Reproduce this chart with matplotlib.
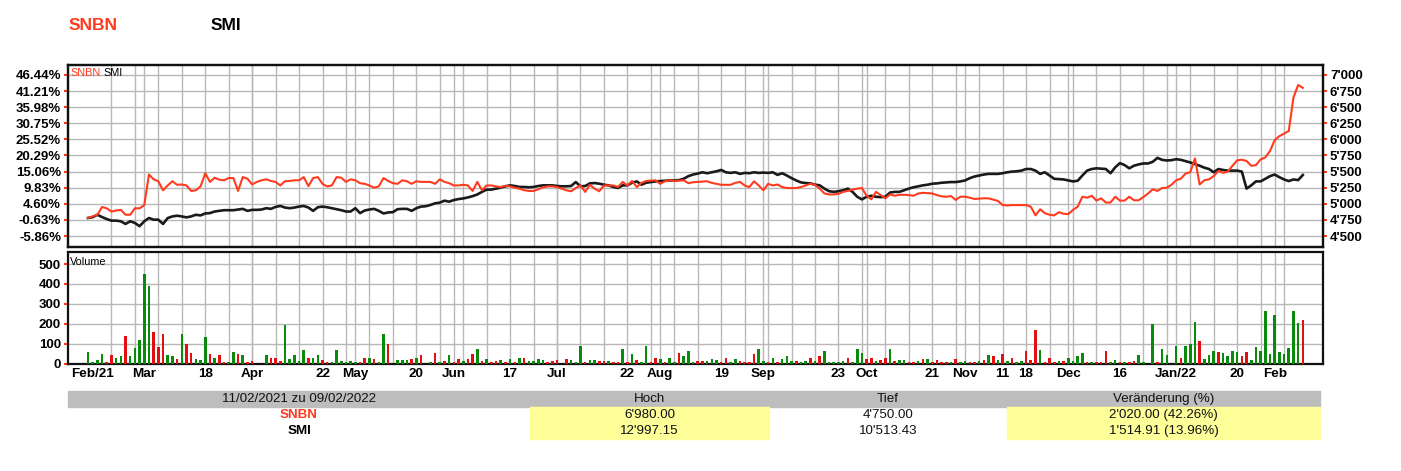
import numpy as np
import pandas as pd
import matplotlib
matplotlib.use('Agg')
import matplotlib.pyplot as plt
from matplotlib.patches import Rectangle

plt.rcParams['font.family'] = ['Liberation Sans', 'DejaVu Sans']

# Handelstage (Mo-Fr) 11.02.2021 - 09.02.2022
dates = pd.bdate_range('2021-02-11', '2022-02-09')

# Schlusskurse SNBN (CHF)
snbn = [4780, 4805, 4830, 4950, 4930, 4880, 4895, 4905, 4830, 4830,
        4930, 4930, 4980, 5455, 5380, 5350, 5210, 5285, 5350, 5295,
        5300, 5285, 5200, 5210, 5270, 5475, 5340, 5405, 5375, 5365,
        5400, 5400, 5200, 5415, 5390, 5300, 5340, 5365, 5380, 5355,
        5340, 5285, 5350, 5355, 5365, 5365, 5415, 5275, 5400, 5415,
        5310, 5270, 5285, 5415, 5405, 5340, 5380, 5365, 5320, 5310,
        5285, 5250, 5270, 5400, 5355, 5320, 5310, 5365, 5350, 5310,
        5350, 5340, 5340, 5340, 5310, 5380, 5340, 5320, 5285, 5285,
        5295, 5285, 5200, 5340, 5210, 5285, 5285, 5270, 5260, 5280,
        5270, 5250, 5235, 5210, 5200, 5200, 5225, 5255, 5270, 5270,
        5260, 5235, 5210, 5195, 5245, 5285, 5185, 5295, 5235, 5195,
        5285, 5285, 5285, 5260, 5340, 5285, 5355, 5260, 5325, 5355,
        5360, 5365, 5310, 5350, 5365, 5355, 5360, 5365, 5320, 5335,
        5340, 5345, 5350, 5325, 5310, 5295, 5295, 5295, 5325, 5340,
        5285, 5260, 5350, 5285, 5210, 5310, 5285, 5300, 5260, 5245,
        5245, 5245, 5260, 5285, 5310, 5295, 5235, 5160, 5145, 5145,
        5155, 5185, 5200, 5220, 5235, 5245, 5125, 5070, 5185, 5135,
        5085, 5145, 5125, 5140, 5140, 5135, 5125, 5160, 5170, 5165,
        5160, 5135, 5115, 5110, 5120, 5060, 5110, 5110, 5095, 5075,
        5080, 5085, 5085, 5065, 5045, 4980, 4975, 4980, 4980, 4980,
        4980, 4955, 4820, 4915, 4855, 4830, 4820, 4870, 4845, 4840,
        4905, 4955, 5110, 5095, 5125, 5050, 5085, 5020, 5020, 5110,
        5050, 5050, 5110, 5055, 5055, 5105, 5160, 5225, 5200, 5245,
        5250, 5295, 5365, 5390, 5470, 5490, 5705, 5300, 5365, 5380,
        5430, 5510, 5480, 5500, 5590, 5675, 5685, 5665, 5590, 5600,
        5690, 5720, 5820, 5990, 6050, 6090, 6130, 6650, 6845, 6800]

# SMI Schlussstände
smi = [10852, 10880, 10965, 10884, 10815, 10758, 10758, 10735, 10642, 10735,
       10677, 10562, 10735, 10850, 10792, 10792, 10642, 10850, 10907, 10931,
       10907, 10873, 10907, 10965, 10942, 11011, 11023, 11080, 11103, 11126,
       11126, 11126, 11150, 11173, 11103, 11138, 11138, 11150, 11196, 11173,
       11242, 11276, 11219, 11196, 11219, 11253, 11276, 11219, 11103, 11230,
       11253, 11230, 11196, 11161, 11126, 11080, 11080, 11196, 11023, 11115,
       11150, 11173, 11103, 11011, 11046, 11057, 11161, 11173, 11173, 11103,
       11196, 11253, 11265, 11311, 11368, 11392, 11461, 11426, 11484, 11518,
       11541, 11576, 11622, 11680, 11772, 11852, 11852, 11887, 11922, 11968,
       12002, 11979, 11945, 11945, 11933, 11945, 11979, 12002, 12002, 12002,
       11979, 11968, 11968, 11979, 12118, 11968, 11979, 12071, 12083, 12060,
       12025, 12002, 11945, 11910, 12002, 12002, 12094, 12141, 12025, 12094,
       12118, 12141, 12152, 12164, 12175, 12175, 12187, 12233, 12325, 12383,
       12417, 12463, 12429, 12463, 12498, 12544, 12463, 12440, 12463, 12406,
       12440, 12429, 12463, 12440, 12452, 12440, 12463, 12371, 12429, 12348,
       12256, 12175, 12106, 12083, 12071, 12025, 12002, 11887, 11795, 11772,
       11795, 11829, 11887, 11772, 11599, 11507, 11599, 11634, 11599, 11587,
       11599, 11749, 11772, 11772, 11829, 11887, 11933, 11968, 12002, 12025,
       12060, 12071, 12094, 12106, 12118, 12118, 12141, 12175, 12256, 12313,
       12348, 12383, 12406, 12406, 12406, 12429, 12463, 12486, 12498, 12521,
       12578, 12578, 12521, 12406, 12463, 12348, 12233, 12221, 12210, 12175,
       12141, 12164, 12348, 12521, 12578, 12602, 12590, 12578, 12429, 12636,
       12786, 12717, 12602, 12694, 12740, 12774, 12774, 12832, 12970, 12901,
       12878, 12890, 12924, 12901, 12855, 12809, 12751, 12694, 12625, 12578,
       12463, 12578, 12544, 12521, 12521, 12521, 12486, 11887, 12002, 12141,
       12141, 12233, 12325, 12383, 12290, 12210, 12152, 12210, 12187, 12367]

# Volumen SNBN (Stück) und Richtung (1 = steigend, 0 = fallend)
volume = [60, 10, 20, 48, 10, 43, 32, 38, 140, 38,
          80, 120, 452, 392, 158, 87, 152, 43, 38, 27,
          152, 98, 55, 27, 20, 135, 48, 32, 43, 10,
          10, 60, 48, 43, 10, 15, 0, 0, 47, 32,
          32, 15, 195, 27, 43, 15, 70, 32, 32, 43,
          20, 10, 10, 70, 15, 10, 15, 10, 10, 32,
          32, 27, 10, 152, 98, 0, 20, 20, 20, 27,
          32, 43, 0, 10, 55, 10, 15, 43, 10, 27,
          15, 27, 48, 75, 15, 27, 10, 15, 20, 10,
          27, 10, 32, 32, 15, 15, 27, 20, 10, 15,
          20, 0, 27, 20, 10, 92, 10, 20, 20, 15,
          15, 15, 10, 10, 75, 10, 48, 20, 10, 92,
          10, 32, 27, 10, 32, 10, 55, 38, 65, 10,
          15, 15, 15, 27, 20, 10, 32, 10, 27, 15,
          10, 10, 48, 75, 15, 10, 32, 10, 27, 38,
          15, 15, 10, 15, 32, 15, 38, 65, 10, 10,
          10, 15, 32, 10, 75, 55, 27, 32, 15, 20,
          32, 75, 15, 20, 20, 10, 10, 15, 27, 27,
          10, 20, 10, 10, 10, 27, 10, 15, 10, 10,
          15, 20, 43, 38, 20, 48, 15, 32, 10, 15,
          65, 20, 168, 70, 10, 32, 10, 15, 15, 32,
          15, 38, 55, 10, 10, 10, 10, 65, 10, 20,
          10, 10, 10, 15, 43, 10, 0, 200, 10, 75,
          43, 0, 92, 32, 92, 98, 212, 113, 27, 43,
          65, 60, 55, 38, 65, 60, 38, 60, 20, 87,
          65, 265, 48, 245, 60, 48, 82, 265, 205, 222]

vol_up = [1, 1, 1, 1, 0, 0, 1, 1, 0, 1,
          1, 1, 1, 1, 0, 0, 0, 1, 1, 0,
          1, 0, 0, 1, 1, 1, 0, 1, 0, 0,
          1, 1, 0, 1, 0, 0, 1, 1, 1, 0,
          0, 0, 1, 1, 1, 1, 1, 0, 1, 1,
          0, 0, 1, 1, 1, 1, 1, 1, 0, 0,
          1, 0, 1, 1, 0, 1, 1, 1, 1, 0,
          1, 0, 1, 1, 0, 1, 0, 1, 0, 0,
          1, 0, 0, 1, 0, 1, 0, 0, 1, 0,
          1, 0, 1, 0, 1, 1, 1, 1, 0, 0,
          0, 1, 0, 1, 1, 1, 0, 1, 1, 0,
          0, 1, 0, 0, 1, 0, 1, 0, 1, 1,
          0, 0, 1, 0, 1, 1, 0, 1, 1, 1,
          0, 0, 1, 1, 1, 0, 0, 1, 1, 0,
          0, 0, 0, 1, 1, 0, 1, 0, 1, 1,
          1, 0, 1, 1, 0, 1, 0, 1, 1, 1,
          1, 1, 0, 1, 1, 1, 0, 0, 1, 0,
          0, 1, 0, 1, 1, 0, 0, 1, 0, 1,
          0, 0, 0, 0, 1, 0, 1, 1, 0, 0,
          1, 0, 1, 0, 1, 0, 1, 0, 1, 1,
          0, 0, 0, 1, 0, 0, 0, 1, 0, 1,
          1, 1, 1, 0, 1, 0, 0, 0, 1, 1,
          0, 1, 0, 0, 1, 1, 1, 1, 0, 1,
          1, 1, 1, 0, 1, 1, 1, 0, 1, 1,
          1, 0, 1, 1, 1, 1, 0, 0, 1, 1,
          1, 1, 1, 1, 1, 1, 1, 1, 1, 0]

tick_dates = ['2021-02-12', '2021-03-01', '2021-03-18', '2021-04-01', '2021-04-22',
              '2021-05-03', '2021-05-20', '2021-06-01', '2021-06-17', '2021-07-01',
              '2021-07-22', '2021-08-02', '2021-08-19', '2021-09-01', '2021-09-23',
              '2021-10-01', '2021-10-21', '2021-11-01', '2021-11-11', '2021-11-18',
              '2021-12-01', '2021-12-16', '2022-01-03', '2022-01-20', '2022-02-01']
tick_labels = ['Feb/21', 'Mar', '18', 'Apr', '22', 'May', '20', 'Jun', '17', 'Jul',
               '22', 'Aug', '19', 'Sep', '23', 'Oct', '21', 'Nov', '11', '18',
               'Dec', '16', 'Jan/22', '20', 'Feb']

price_ticks = np.arange(4500, 7001, 250)

table_header = ['11/02/2021 zu 09/02/2022', 'Hoch', 'Tief', 'Veränderung (%)']
table_rows = [['SNBN', "6'980.00", "4'750.00", "2'020.00 (42.26%)"],
              ['SMI', "12'997.15", "10'513.43", "1'514.91 (13.96%)"]]

RED = '#ff3b1f'
x = np.arange(len(dates))
snbn = np.array(snbn, float)
smi = np.array(smi, float)
snbn_pct = (snbn / snbn[0] - 1) * 100
smi_pct = (smi / smi[0] - 1) * 100
pct_ticks = (price_ticks / snbn[0] - 1) * 100

W, H = 1401, 471
fig = plt.figure(figsize=(W / 100, H / 100), dpi=100)


def box(l, t, r, b):
    return [l / W, 1 - b / H, (r - l) / W, (b - t) / H]


ax = fig.add_axes(box(68, 65, 1323, 247))
axv = fig.add_axes(box(68, 252, 1323, 364))

# Gitterlinien: wöchentlich (donnerstags) und Monatsanfang
thursdays = [i for i in x if dates[i].dayofweek == 3 and i > 0]
month_start = [i for i in x[1:] if dates[i].month != dates[i - 1].month]
for a in (ax, axv):
    for i in thursdays + month_start:
        a.axvline(i, color='#b8b8b8', lw=1, zorder=0)
    a.set_xlim(-4.26, 263.3)
    for s in a.spines.values():
        s.set_linewidth(1.6)
        s.set_color('#111111')

# Kurslinien
ax.plot(x, smi_pct, color='#1a1a1a', lw=1.9, zorder=3)
ax.plot(x, snbn_pct, color=RED, lw=1.5, zorder=4)
ax.set_ylim(-9.43, 49.69)
ax.set_yticks(pct_ticks)
ax.set_yticklabels([f'{p:.2f}%' for p in pct_ticks])
ax.yaxis.grid(True, color='#b8b8b8', lw=1, zorder=0)
ax.set_xticks([])
ax.tick_params(axis='y', colors=RED, length=3, width=1.5, pad=2, labelsize=9.5,
               labelcolor='black')
for t in ax.get_yticklabels():
    t.set_fontweight('bold')

ax2 = ax.twinx()
ax2.set_ylim(ax.get_ylim())
ax2.set_yticks(pct_ticks)
ax2.set_yticklabels([f'{int(p):,}'.replace(',', "'") for p in price_ticks])
ax2.tick_params(axis='y', colors=RED, length=3, width=1.5, pad=2, labelsize=9.5,
                labelcolor='black')
for t in ax2.get_yticklabels():
    t.set_fontweight('bold')
for s in ax2.spines.values():
    s.set_linewidth(1.6)
    s.set_color('#111111')

ax.text(0.0016, 0.955, 'SNBN', color=RED, fontsize=7.8, transform=ax.transAxes,
        va='center', ha='left')
ax.text(0.0285, 0.955, 'SMI', color='black', fontsize=7.8, transform=ax.transAxes,
        va='center', ha='left')

# Volumen
vol_colors = ['#0a8a0a' if u else '#e01010' for u in vol_up]
axv.bar(x, volume, width=0.55, color=vol_colors, zorder=3)
axv.set_ylim(0, 560)
axv.set_yticks(np.arange(0, 501, 100))
axv.yaxis.grid(True, color='#b8b8b8', lw=1, zorder=0)
axv.tick_params(axis='y', colors=RED, length=3, width=1.5, pad=2, labelsize=9.5,
                labelcolor='black')
for t in axv.get_yticklabels():
    t.set_fontweight('bold')
tick_idx = [dates.get_loc(pd.Timestamp(d)) for d in tick_dates]
axv.set_xticks(tick_idx)
axv.set_xticklabels(tick_labels, fontweight='bold')
axv.tick_params(axis='x', length=0, pad=3, labelsize=9.7)
axv.text(0.0016, 0.91, 'Volume', fontsize=7.8, transform=axv.transAxes,
         va='center', ha='left')

# Titel
fig.text(69 / W, 1 - 25 / H, 'SNBN', color=RED, fontsize=12.5, fontweight='bold',
         va='center', ha='left')
fig.text(211 / W, 1 - 25 / H, 'SMI', color='black', fontsize=12.5, fontweight='bold',
         va='center', ha='left')

# Tabelle
cols = [68, 530, 769, 1007, 1320]
rows_y = [391, 407, 423, 439]


def frect(l, t, r, b, color):
    fig.patches.append(Rectangle((l / W, 1 - b / H), (r - l) / W, (b - t) / H,
                                 transform=fig.transFigure, color=color, zorder=0))


frect(cols[0], rows_y[0], cols[-1], rows_y[1], '#bdbdbd')
for r in (1, 2):
    frect(cols[1], rows_y[r], cols[2], rows_y[r + 1], '#ffff99')
    frect(cols[3], rows_y[r], cols[4], rows_y[r + 1], '#ffff99')

for c, txt in enumerate(table_header):
    fig.text((cols[c] + cols[c + 1]) / 2 / W, 1 - (rows_y[0] + rows_y[1]) / 2 / H, txt,
             ha='center', va='center', fontsize=9.6, color='#111111')
for r, row in enumerate(table_rows):
    yc = 1 - (rows_y[r + 1] + rows_y[r + 2]) / 2 / H
    for c, txt in enumerate(row):
        kw = dict(ha='center', va='center', fontsize=9.6, color='#111111')
        if c == 0:
            kw.update(fontweight='bold', color=RED if txt == 'SNBN' else 'black')
        fig.text((cols[c] + cols[c + 1]) / 2 / W, yc, txt, **kw)

fig.savefig('out.png', dpi=100)
